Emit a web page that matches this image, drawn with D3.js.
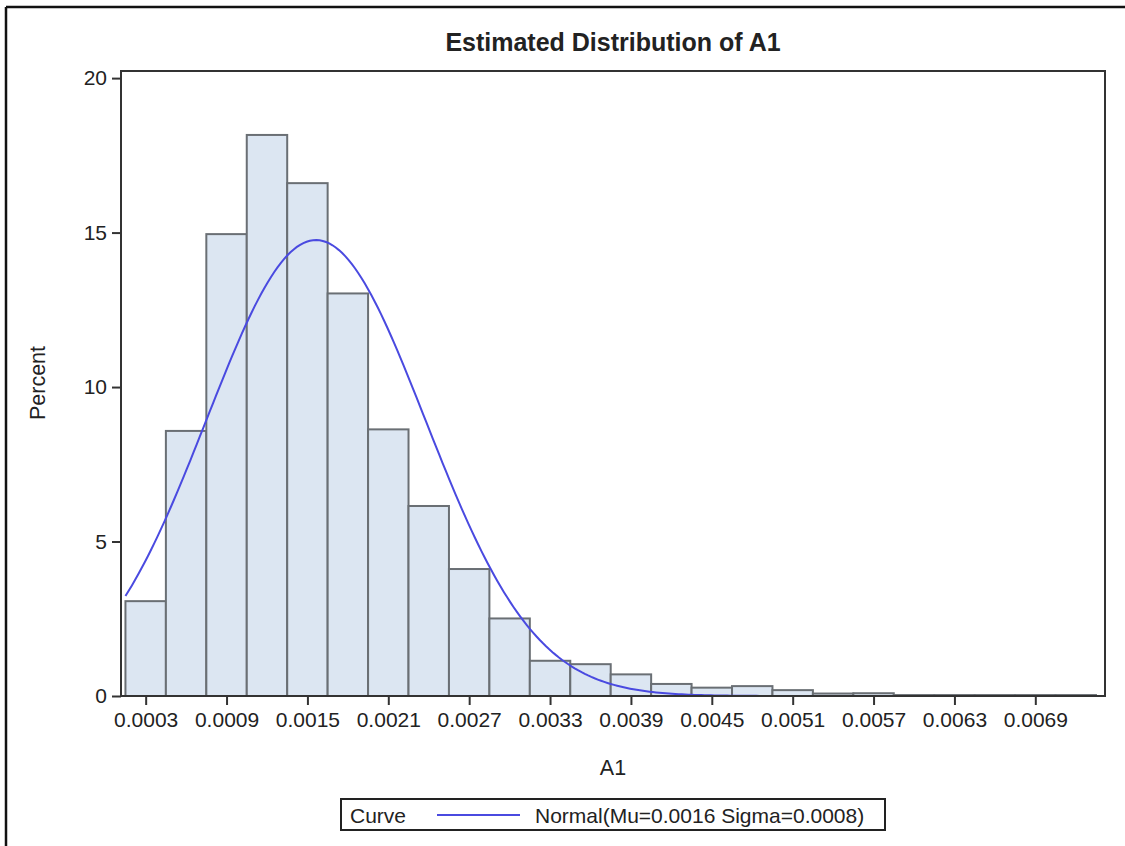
<!DOCTYPE html>
<html>
<head>
<meta charset="utf-8">
<script src="https://cdn.jsdelivr.net/npm/d3@7/dist/d3.min.js"></script>
<style>
  body { margin: 0; background: #fff; }
  text { font-family: Arial, "Liberation Sans", sans-serif; fill: #222; }
  .axis path, .axis line { stroke: #333; stroke-width: 2; }
  .axis text { font-size: 21px; }
</style>
</head>
<body>
<div id="chart"></div>
<script>
// bin midpoints of A1 (bin width 0.0003) and percent per bin
var binMids = [0.0003, 0.0006, 0.0009, 0.0012, 0.0015, 0.0018, 0.0021, 0.0024,
  0.0027, 0.0030, 0.0033, 0.0036, 0.0039, 0.0042, 0.0045, 0.0048, 0.0051,
  0.0054, 0.0057, 0.0060, 0.0063, 0.0066, 0.0069, 0.0072];
var percents = [3.07, 8.58, 14.95, 18.16, 16.6, 13.03, 8.63, 6.15,
  4.11, 2.51, 1.14, 1.03, 0.70, 0.39, 0.27, 0.32, 0.19,
  0.08, 0.09, 0.03, 0.03, 0.03, 0.03, 0.03];
var binWidth = 0.0003;
var xTicks = [0.0003, 0.0009, 0.0015, 0.0021, 0.0027, 0.0033, 0.0039, 0.0045, 0.0051, 0.0057, 0.0063, 0.0069];
var yTicks = [0, 5, 10, 15, 20];
// fitted normal (legend shows rounded values)
var mu = 0.001563, sigma = 0.000811;

var W = 1125, H = 846;

var svg = d3.select('#chart').append('svg')
  .attr('width', W).attr('height', H);

// outer frame (top and left edges visible)
svg.append('line').attr('x1', 6).attr('y1', 7).attr('x2', W).attr('y2', 7)
  .attr('stroke', '#111').attr('stroke-width', 2.5);
svg.append('line').attr('x1', 6).attr('y1', 7).attr('x2', 6).attr('y2', H)
  .attr('stroke', '#111').attr('stroke-width', 2.5);

var x = d3.scaleLinear().domain([0.000117, 0.007417]).range([121, 1105]);
var y = d3.scaleLinear().domain([0, 20.23]).range([696, 71]);

svg.append('text')
  .attr('x', 613).attr('y', 51)
  .attr('text-anchor', 'middle')
  .style('font-size', '25px').style('font-weight', 'bold')
  .text('Estimated Distribution of A1');

var g = svg.append('g');

g.selectAll('rect.bar')
  .data(binMids)
  .enter().append('rect')
  .attr('class', 'bar')
  .attr('x', function(d) { return x(d - binWidth / 2); })
  .attr('width', function(d) { return x(d + binWidth / 2) - x(d - binWidth / 2); })
  .attr('y', function(d, i) { return y(percents[i]); })
  .attr('height', function(d, i) { return y(0) - y(percents[i]); })
  .attr('fill', '#dce6f2')
  .attr('stroke', '#6a6f74')
  .attr('stroke-width', 2);

// normal curve over the histogram range
var lo = binMids[0] - binWidth / 2, hi = binMids[binMids.length - 1] + binWidth / 2;
var curvePts = d3.range(0, 301).map(function(k) {
  var v = lo + (hi - lo) * k / 300;
  var z = (v - mu) / sigma;
  return [v, 100 * binWidth / (sigma * Math.sqrt(2 * Math.PI)) * Math.exp(-0.5 * z * z)];
});
g.append('path')
  .datum(curvePts)
  .attr('fill', 'none')
  .attr('stroke', '#4a4ae0')
  .attr('stroke-width', 2)
  .attr('d', d3.line().x(function(d) { return x(d[0]); }).y(function(d) { return y(d[1]); }));

// plot frame
svg.append('rect')
  .attr('x', 121).attr('y', 71).attr('width', 1105 - 121).attr('height', 696 - 71)
  .attr('fill', 'none').attr('stroke', '#333').attr('stroke-width', 2);

svg.append('g').attr('class', 'axis')
  .attr('transform', 'translate(0,696)')
  .call(d3.axisBottom(x).tickValues(xTicks).tickFormat(d3.format('.4f')).tickSize(9).tickPadding(7))
  .call(function(s) { s.select('.domain').remove(); });

svg.append('g').attr('class', 'axis')
  .attr('transform', 'translate(121,0)')
  .call(d3.axisLeft(y).tickValues(yTicks).tickSize(9).tickPadding(5))
  .call(function(s) { s.select('.domain').remove(); });

svg.append('text')
  .attr('transform', 'translate(45,383) rotate(-90)')
  .attr('text-anchor', 'middle')
  .style('font-size', '21.5px')
  .text('Percent');

svg.append('text')
  .attr('x', 613).attr('y', 775)
  .attr('text-anchor', 'middle')
  .style('font-size', '21.5px')
  .text('A1');

// legend
var leg = svg.append('g');
leg.append('rect')
  .attr('x', 341).attr('y', 799).attr('width', 544).attr('height', 31)
  .attr('fill', '#fff').attr('stroke', '#222').attr('stroke-width', 2);
leg.append('text').attr('x', 350).attr('y', 823).style('font-size', '21px').text('Curve');
leg.append('line').attr('x1', 437).attr('x2', 520).attr('y1', 815).attr('y2', 815)
  .attr('stroke', '#4a4ae0').attr('stroke-width', 2);
leg.append('text').attr('x', 535).attr('y', 823).style('font-size', '21px')
  .text('Normal(Mu=0.0016 Sigma=0.0008)');
</script>
</body>
</html>
